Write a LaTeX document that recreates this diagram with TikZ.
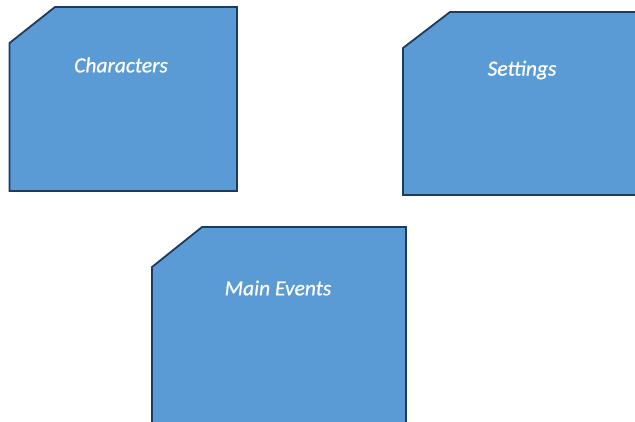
\documentclass[tikz,border=0pt]{standalone}
\usepackage{fontspec}
\setmainfont{Carlito}
\newfontfamily\labelfont[ItalicFeatures={FakeBold=0.6}]{Carlito}
\definecolor{boxfill}{HTML}{5B9BD5}
\definecolor{boxline}{HTML}{1E3A5C}
\tikzset{
  cutbox/.style={fill=boxfill, draw=boxline, line width=1.8pt, line join=miter},
  boxlabel/.style={text=white, font=\labelfont\itshape\fontsize{21.5}{25}\selectfont, inner sep=0pt}
}
\begin{document}
\begin{tikzpicture}[x=1pt,y=-1pt]
\useasboundingbox (0,0) rectangle (635,421);
% Characters
\draw[cutbox] (55,7) -- (237,7) -- (237,191) -- (9.5,191) -- (9.5,43) -- cycle;
\node[boxlabel] (characters) at (121,65) {Characters};
% Settings
\draw[cutbox] (450,12) -- (640,12) -- (640,195) -- (403,195) -- (403,48) -- cycle;
\node[boxlabel] (settings) at (522,70) {Settings};
% Main Events
\draw[cutbox] (202,227) -- (406,227) -- (406,430) -- (152,430) -- (152,267) -- cycle;
\node[boxlabel] (mainevents) at (278,288) {Main Events};
\end{tikzpicture}
\end{document}
